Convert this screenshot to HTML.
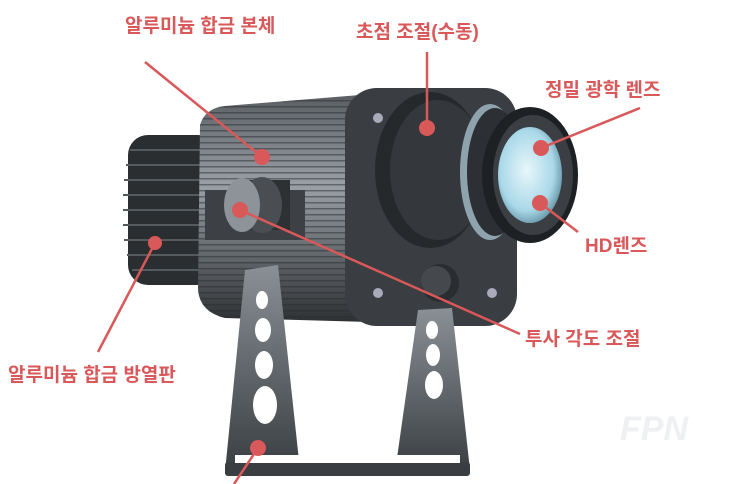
<!DOCTYPE html>
<html><head><meta charset="utf-8"><style>
html,body{margin:0;padding:0;background:#fff;width:750px;height:484px;overflow:hidden}
svg text{font-family:"Liberation Sans","Noto Sans CJK KR",sans-serif;font-weight:bold;fill:#d9585a;font-size:19px}
</style></head><body>
<svg width="750" height="484" viewBox="0 0 750 484" xmlns="http://www.w3.org/2000/svg">
<defs>
<linearGradient id="body" x1="0" y1="0" x2="0" y2="1"><stop offset="0" stop-color="#5a5e63"/><stop offset=".4" stop-color="#9aa0a6"/><stop offset="1" stop-color="#2e3134"/></linearGradient>
<linearGradient id="leg" x1="0" y1="0" x2="0" y2="1"><stop offset="0" stop-color="#8a9096"/><stop offset="1" stop-color="#3a3e42"/></linearGradient>
<radialGradient id="glass" cx=".45" cy=".45" r=".6"><stop offset="0" stop-color="#e8f6fb"/><stop offset=".7" stop-color="#a9d8e8"/><stop offset="1" stop-color="#5f8ea0"/></radialGradient>
<pattern id="stripe" width="6" height="6" patternUnits="userSpaceOnUse"><rect width="6" height="6" fill="none"/><rect y="4" width="6" height="1.5" fill="#2a2d30" opacity=".5"/></pattern>
</defs>
<!-- fins -->
<g fill="#2b2e31">
<rect x="128" y="135" width="90" height="150" rx="20"/>
</g>
<g stroke="#555a5f" stroke-width="2">
<line x1="130" y1="150" x2="215" y2="150"/><line x1="126" y1="165" x2="215" y2="165"/><line x1="124" y1="180" x2="215" y2="180"/><line x1="123" y1="195" x2="215" y2="195"/><line x1="123" y1="210" x2="215" y2="210"/><line x1="123" y1="225" x2="215" y2="225"/><line x1="124" y1="240" x2="215" y2="240"/><line x1="127" y1="255" x2="215" y2="255"/><line x1="132" y1="270" x2="215" y2="270"/>
</g>
<!-- body -->
<path d="M200 125 Q205 108 225 106 L360 95 L370 322 L225 318 Q200 312 198 290 Z" fill="url(#body)"/>
<path d="M200 125 Q205 108 225 106 L360 95 L370 322 L225 318 Q200 312 198 290 Z" fill="url(#stripe)"/>
<rect x="205" y="190" width="100" height="50" fill="#3d4145"/>
<!-- front plate -->
<rect x="345" y="88" width="172" height="238" rx="32" fill="#3a3d42"/>
<circle cx="378" cy="118" r="5" fill="#aab"/><circle cx="378" cy="293" r="5" fill="#aab"/><circle cx="492" cy="293" r="5" fill="#aab"/>
<!-- focus barrel -->
<ellipse cx="430" cy="170" rx="55" ry="78" fill="#26292c"/>
<ellipse cx="438" cy="170" rx="48" ry="70" fill="#34383c"/>
<ellipse cx="490" cy="172" rx="30" ry="68" fill="#8ea3ad"/>
<ellipse cx="495" cy="172" rx="28" ry="64" fill="#2c2f33"/>
<ellipse cx="530" cy="175" rx="48" ry="68" fill="#1e2124"/>
<ellipse cx="533" cy="175" rx="40" ry="60" fill="#3b3f44"/>
<ellipse cx="530" cy="175" rx="32" ry="48" fill="url(#glass)"/>
<!-- knobs -->
<rect x="240" y="180" width="50" height="50" fill="#2e3134"/>
<ellipse cx="262" cy="205" rx="20" ry="28" fill="#4a4e52"/>
<ellipse cx="242" cy="205" rx="18" ry="27" fill="#8d9398"/>
<circle cx="440" cy="283" r="19" fill="#2a2d30"/><circle cx="436" cy="281" r="15" fill="#45494d"/>
<!-- legs -->
<path d="M245 270 L278 265 L300 470 L225 472 Z" fill="url(#leg)"/>
<path d="M418 310 L452 308 L470 470 L395 472 Z" fill="url(#leg)"/>
<rect x="225" y="462" width="245" height="14" rx="3" fill="#3a3e42"/>
<rect x="235" y="455" width="225" height="8" fill="#fff"/>
<g fill="#fff">
<ellipse cx="262" cy="300" rx="6" ry="9"/><ellipse cx="263" cy="330" rx="8" ry="12"/><ellipse cx="264" cy="365" rx="9" ry="14"/><ellipse cx="265" cy="405" rx="12" ry="19"/>
<ellipse cx="432" cy="330" rx="6" ry="9"/><ellipse cx="433" cy="355" rx="7" ry="11"/><ellipse cx="434" cy="385" rx="9" ry="14"/>
</g>
<!-- connectors -->
<g stroke="#d9585a" stroke-width="2.5" fill="none">
<line x1="145" y1="62" x2="262" y2="157"/>
<line x1="427" y1="52" x2="427" y2="128"/>
<line x1="640" y1="108" x2="541" y2="148"/>
<line x1="540" y1="203" x2="578" y2="232"/>
<line x1="240" y1="210" x2="520" y2="334"/>
<line x1="155" y1="243" x2="98" y2="352"/>
<line x1="258" y1="448" x2="234" y2="484"/>
</g>
<g fill="#d9585a">
<circle cx="262" cy="157" r="8"/><circle cx="427" cy="128" r="8"/><circle cx="541" cy="148" r="8"/><circle cx="540" cy="203" r="8"/><circle cx="240" cy="210" r="8"/><circle cx="155" cy="243" r="7"/><circle cx="258" cy="448" r="8"/>
</g>
<text x="125" y="32">알루미늄 합금 본체</text>
<text x="356" y="38">초점 조절(수동)</text>
<text x="545" y="96">정밀 광학 렌즈</text>
<text x="585" y="252">HD렌즈</text>
<text x="525" y="345">투사 각도 조절</text>
<text x="8" y="381">알루미늄 합금 방열판</text>
<text x="620" y="440" style="fill:#eef0f2;font-style:italic;font-size:34px">FPN</text>
</svg>
</body></html>
